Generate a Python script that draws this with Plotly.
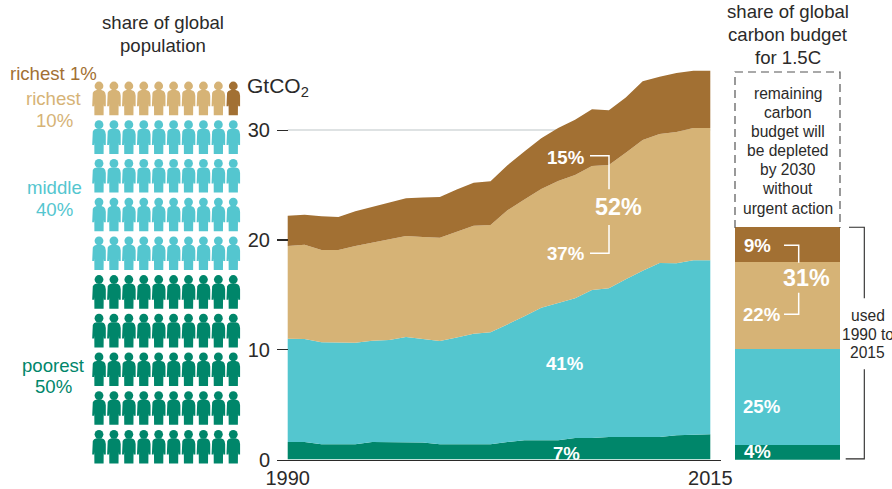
import plotly.graph_objects as go

W, H = 892, 489
FONT = "Liberation Sans"
DARK = "#2b2a29"
BROWN, TAN, CYAN, GREEN = "#A27033", "#D6B376", "#54C6CF", "#00866A"

years = list(range(1990, 2016))
poorest_50 = [1.6,1.6,1.4,1.4,1.4,1.6,1.6,1.6,1.55,1.4,1.4,1.4,1.4,1.6,1.75,1.75,1.75,1.95,1.95,2.05,2.05,2.05,2.05,2.2,2.25,2.3]
middle_40 = [9.4,9.37,9.27,9.24,9.24,9.22,9.28,9.55,9.45,9.4,9.7,10.06,10.18,10.68,11.29,12.08,12.47,12.73,13.49,13.54,14.36,15.15,15.85,15.67,15.89,15.84]
richest_10 = [8.44,8.59,8.41,8.44,8.8,8.93,9.17,9.2,9.26,9.4,9.65,9.84,9.77,10.41,10.63,10.81,11.14,11.22,11.29,11.23,11.53,11.9,11.75,11.96,12.06,12.06]
richest_1 = [2.76,2.74,3.07,3.01,3.16,3.25,3.35,3.45,3.61,3.7,3.85,3.9,4.0,4.11,4.38,4.61,4.84,5.05,5.17,4.98,5.04,5.34,5.22,5.37,5.2,5.2]

budget_shares = [3.8, 24.8, 22.5, 8.9]
budget_remaining = 40
population_counts = [50, 40, 9, 1]
y_ticks = [0, 10, 20, 30]
x_ticks = [1990, 2015]

def fx(p): return p / W
def fy(p): return 1 - p / H

fig = go.Figure()
colors = [GREEN, CYAN, TAN, BROWN]

# stacked emissions
for vals, c in zip([poorest_50, middle_40, richest_10, richest_1], colors):
    fig.add_trace(go.Scatter(x=years, y=vals, stackgroup="one", mode="lines",
                             line=dict(width=0, color=c), fillcolor=c,
                             hoverinfo="skip", xaxis="x", yaxis="y"))

# carbon budget column
for v, c in zip(budget_shares, colors):
    fig.add_trace(go.Bar(x=[0], y=[v], width=1, marker=dict(color=c, line=dict(width=0)),
                         hoverinfo="skip", xaxis="x3", yaxis="y3"))

# population pictogram: 10 x 10 grid filled from the bottom row
BODY = [(-2.4,8.3),(2.4,8.3),(4.9,9.2),(6.2,11.0),(6.8,14.0),(6.8,24.5),(4.9,24.5),(4.7,22.0),
        (4.6,33.5),(-4.6,33.5),(-4.7,22.0),(-4.9,24.5),(-6.8,24.5),
        (-6.8,14.0),(-6.2,11.0),(-4.9,9.2)]
cells = [(c, r) for r in range(9, -1, -1) for c in range(10)]
start = 0
for n, col in zip(population_counts, colors):
    bx, by, hx, hy = [], [], [], []
    for c, r in cells[start:start + n]:
        cx = 99.0 + c * 14.92
        top = 81.7 + r * 38.7
        for dx, dy in BODY + BODY[:1]:
            bx.append(cx + dx); by.append(top + dy)
        bx.append(None); by.append(None)
        hx.append(cx); hy.append(top + 4.3)
    start += n
    fig.add_trace(go.Scatter(x=bx, y=by, mode="lines", fill="toself", fillcolor=col,
                             line=dict(width=0, color=col), hoverinfo="skip",
                             xaxis="x2", yaxis="y2"))
    fig.add_trace(go.Scatter(x=hx, y=hy, mode="markers",
                             marker=dict(size=8.8, color=col, line=dict(width=0)),
                             hoverinfo="skip", xaxis="x2", yaxis="y2"))

shapes = [dict(type="line", xref="x", yref="y", x0=1990, x1=2015, y0=30, y1=30,
               line=dict(color="#d3d9da", width=1.5), layer="below")]

def polyline(pts, color, width, dash=None):
    path = "M " + " L ".join(f"{fx(x):.5f} {fy(y):.5f}" for x, y in pts)
    line = dict(color=color, width=width)
    if dash:
        line["dash"] = dash
    shapes.append(dict(type="path", xref="paper", yref="paper", path=path, line=line, layer="above"))

polyline([(590,155.7),(609,155.7),(609,189.3)], "white", 1.5)
polyline([(609,225),(609,253.3),(590,253.3)], "white", 1.5)
polyline([(784,245.3),(798.7,245.3),(798.7,262.7)], "white", 1.5)
polyline([(798.7,292.7),(798.7,314.3),(784,314.3)], "white", 1.5)
polyline([(849,227.3),(864.3,227.3),(864.3,298.3)], DARK, 1.1)
polyline([(864.3,369.3),(864.3,458.9),(845.7,458.9)], DARK, 1.1)
polyline([(735,228),(735,72),(840,72),(840,228)], "#555555", 1.2, "8px,5px")

ann = []
def txt(x, y, s, size=18.6, color=DARK, bold=False, anchor="center"):
    label = f"<b>{s}</b>" if bold else s
    ann.append(dict(xref="paper", yref="paper", x=fx(x), y=fy(y), text=label, showarrow=False,
                    xanchor=anchor, yanchor="middle", align="center",
                    font=dict(family=FONT, size=size, color=color)))

txt(163, 23, "share of global"); txt(163, 46, "population")
txt(788, 12, "share of global"); txt(788, 34, "carbon budget"); txt(788, 57, "for 1.5C")
txt(53.5, 74, "richest 1%", color=BROWN)
txt(54, 99, "richest", color=TAN); txt(54, 121, "10%", color=TAN)
txt(54, 187, "middle", color=CYAN); txt(54, 209, "40%", color=CYAN)
txt(53, 365, "poorest", color=GREEN); txt(53, 386, "50%", color=GREEN)
txt(245, 87, "GtCO<sub>2</sub>", size=21, anchor="left")
for y, s in zip([93,112.7,131.7,150.7,170,188.7,208.7],
                ["remaining","carbon","budget will","be depleted","by 2030","without","urgent action"]):
    txt(787.5, y, s, size=15.6)
for y, s in zip([315,334,352.7], ["used","1990 to","2015"]):
    txt(867.5, y, s, size=15.6)
for x, y, s in [(565.8,157.7,"15%"),(565.5,253.3,"37%"),(565.3,363.3,"41%"),(566,453.3,"7%"),
                (757.3,245,"9%"),(762.3,314,"22%"),(762.3,406.7,"25%"),(757.3,451.7,"4%")]:
    txt(x, y, s, color="white", bold=True)
txt(618.3, 206.7, "52%", size=23.3, color="white", bold=True)
txt(806, 278.3, "31%", size=23.3, color="white", bold=True)

hidden = dict(visible=False, fixedrange=True)
PX_YEAR = 422.6 / 25
PX_UNIT = 10.98
left, right, base = 277, 721, 459.5
top = base - 36 * PX_UNIT
fig.update_layout(
    width=W, height=H, margin=dict(l=0, r=0, t=0, b=0, autoexpand=False),
    autosize=False,
    paper_bgcolor="white", plot_bgcolor="rgba(0,0,0,0)",
    showlegend=False, barmode="stack",
    font=dict(family=FONT, color=DARK),
    xaxis=dict(domain=[fx(left), fx(right)],
               range=[1990 - (287.7 - left) / PX_YEAR, 2015 + (right - 710.3) / PX_YEAR],
               tickmode="array", tickvals=x_ticks, ticks="", showgrid=False, zeroline=False,
               showline=True, linecolor=DARK, linewidth=1.5, anchor="y",
               tickfont=dict(family=FONT, size=20, color=DARK), fixedrange=True),
    yaxis=dict(domain=[fy(base), fy(top)], range=[0, 36], tickmode="array", tickvals=y_ticks,
               ticks="inside", ticklen=11, tickwidth=1.2, tickcolor=DARK, showgrid=False,
               zeroline=False, showline=False, anchor="x", ticklabelstandoff=6,
               tickfont=dict(family=FONT, size=20, color=DARK), fixedrange=True),
    xaxis2=dict(domain=[0, fx(250)], range=[0, 250], anchor="y2", **hidden),
    yaxis2=dict(domain=[0, 1], range=[H, 0], anchor="x2", **hidden),
    xaxis3=dict(domain=[fx(735), fx(840)], range=[-0.5, 0.5], anchor="y3", **hidden),
    yaxis3=dict(domain=[fy(459.7), fy(72)], range=[0, sum(budget_shares) + budget_remaining],
                anchor="x3", **hidden),
    shapes=shapes, annotations=ann,
)
fig.write_html("out.html", config=dict(displayModeBar=False, staticPlot=True),
               post_script="document.body.style.margin='0';document.body.style.overflow='hidden';")
